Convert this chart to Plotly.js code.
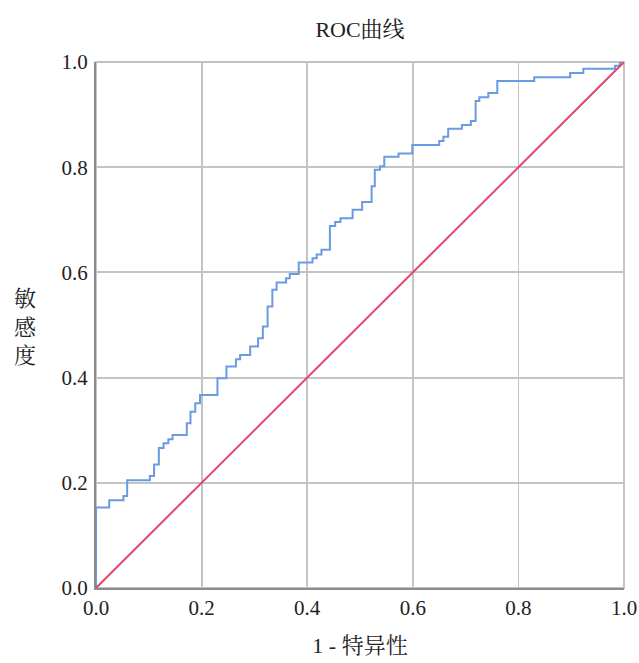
<!DOCTYPE html>
<html>
<head>
<meta charset="utf-8">
<script src="https://cdn.plot.ly/plotly-3.0.1.min.js"></script>
<style>html,body{margin:0;padding:0;background:#fff;}</style>
</head>
<body>
<div id="chart" style="width:639px;height:663px;"></div>
<script>
// ROC curve step points (1 - specificity, sensitivity)
var fpr = [0, 0, 0.025, 0.052, 0.059, 0.102, 0.110, 0.119, 0.128, 0.137, 0.145, 0.172, 0.179, 0.188, 0.197, 0.230,
           0.247, 0.265, 0.273, 0.292, 0.307, 0.316, 0.325, 0.334, 0.342, 0.360, 0.367, 0.384, 0.410, 0.418, 0.427,
           0.443, 0.453, 0.463, 0.486, 0.504, 0.522, 0.528, 0.538, 0.546, 0.573, 0.599, 0.650, 0.658, 0.667, 0.693,
           0.710, 0.719, 0.726, 0.743, 0.760, 0.830, 0.898, 0.923, 0.983, 0.992, 1.0];
var tpr = [0, 0.153, 0.167, 0.175, 0.205, 0.213, 0.235, 0.266, 0.275, 0.283, 0.291, 0.313, 0.335, 0.351, 0.367, 0.399,
           0.421, 0.435, 0.443, 0.459, 0.475, 0.497, 0.535, 0.567, 0.581, 0.589, 0.597, 0.619, 0.627, 0.634, 0.643,
           0.688, 0.696, 0.703, 0.719, 0.734, 0.764, 0.795, 0.802, 0.820, 0.826, 0.842, 0.850, 0.858, 0.873, 0.880,
           0.888, 0.926, 0.933, 0.941, 0.964, 0.971, 0.979, 0.987, 0.993, 1.0, 1.0];
// Reference line
var refX = [0, 1];
var refY = [0, 1];
var tickVals = [0, 0.2, 0.4, 0.6, 0.8, 1.0];
var tickText = ["0.0", "0.2", "0.4", "0.6", "0.8", "1.0"];

var serif = "Liberation Serif, Noto Serif CJK SC, Noto Sans CJK SC, serif";

var traces = [
  {x: fpr, y: tpr, mode: "lines", line: {color: "#6a9be2", width: 2, shape: "hv"}, cliponaxis: false, hoverinfo: "skip"},
  {x: refX, y: refY, mode: "lines", line: {color: "#e2456d", width: 2}, cliponaxis: false, hoverinfo: "skip"}
];

var axisCommon = {
  range: [0, 1], tickvals: tickVals, ticktext: tickText,
  showgrid: true, gridcolor: "#c4c4c4", gridwidth: 1.8,
  zeroline: false, showline: true, linecolor: "#8c8c8c", linewidth: 2,
  ticks: "", tickfont: {family: serif, size: 21, color: "#222"}, fixedrange: true
};

var layout = {
  width: 639, height: 663,
  margin: {l: 96, r: 15, t: 62, b: 75},
  paper_bgcolor: "#fff", plot_bgcolor: "#fff",
  showlegend: false,
  title: {text: "ROC曲线", x: 0.5, xref: "paper", y: 0.968, yref: "container", xanchor: "center",
          font: {family: serif, size: 22, color: "#222"}},
  xaxis: Object.assign({}, axisCommon, {
    title: {text: "1 - 特异性", font: {family: serif, size: 22, color: "#222"}, standoff: 18}
  }),
  yaxis: Object.assign({}, axisCommon, {ticklabelstandoff: 2}),
  shapes: [
    {type: "rect", xref: "paper", yref: "paper", x0: 0, x1: 1, y0: 0, y1: 1,
     line: {color: "#c0c0c0", width: 1.8}, layer: "below"}
  ],
  annotations: [
    {text: "敏<br>感<br>度", xref: "paper", yref: "paper", x: -0.134, y: 0.496,
     xanchor: "center", yanchor: "middle", showarrow: false,
     font: {family: serif, size: 22, color: "#222"}}
  ]
};

Plotly.newPlot("chart", traces, layout, {staticPlot: true, displayModeBar: false});
</script>
</body>
</html>
